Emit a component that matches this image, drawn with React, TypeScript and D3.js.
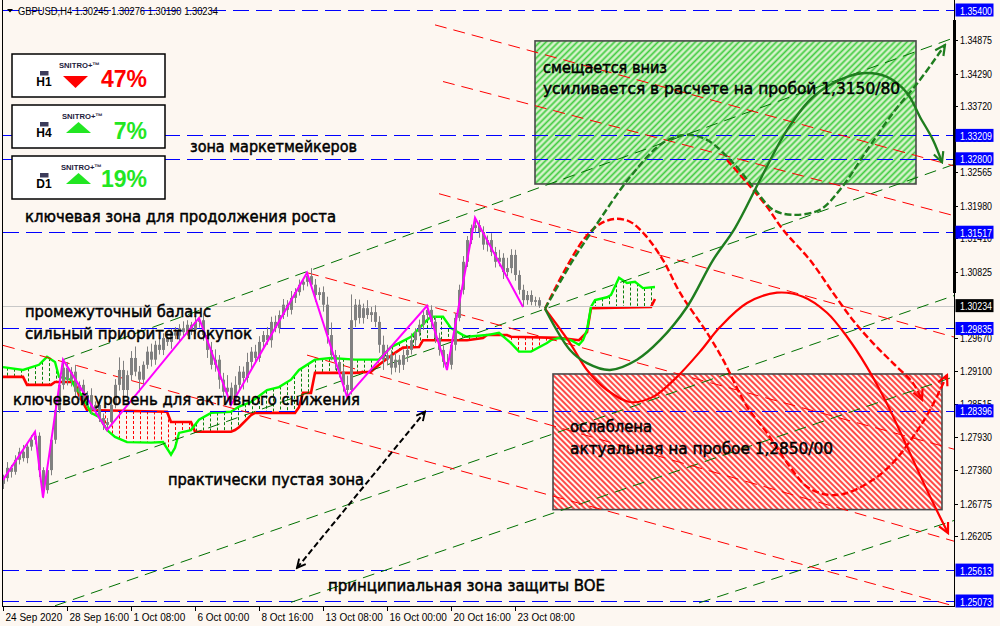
import React from "react";
import * as d3 from "d3";

const W = 1000;
const H = 626;
const X0 = 3;
const X1 = 954;
const Y1 = 606;

const header = "GBPUSD,H4  1.30245 1.30276 1.30190 1.30234";

// ---- candles (H4 bars, index 0 = 24 Sep 2020 00:00) ----
const firstOpen = 1.2712;
const closes = [
  1.2722, 1.274, 1.2733, 1.2754, 1.2768, 1.2757, 1.2777, 1.2789, 1.2796, 1.2736,
  1.2701, 1.2736, 1.2789, 1.2841, 1.2885, 1.2915, 1.2894, 1.2908, 1.2873, 1.2885,
  1.2859, 1.2867, 1.2841, 1.285, 1.2827, 1.2815, 1.282, 1.285, 1.2885, 1.2911,
  1.2876, 1.2902, 1.2932, 1.2908, 1.2894, 1.292, 1.2943, 1.2929, 1.2955, 1.2946,
  1.2967, 1.296, 1.2977, 1.2971, 1.2984, 1.2977, 1.299, 1.2981, 1.2995, 1.2998,
  1.2972, 1.2946, 1.292, 1.2929, 1.2894, 1.2873, 1.288, 1.2859, 1.2885, 1.2908,
  1.2897, 1.2925, 1.2943, 1.2932, 1.296, 1.2972, 1.2963, 1.2995, 1.2984, 1.3007,
  1.3025, 1.3016, 1.3037, 1.3047, 1.306, 1.3065, 1.3075, 1.306, 1.3042, 1.3047,
  1.3025, 1.2972, 1.2937, 1.2925, 1.2908, 1.2885, 1.2876, 1.2998, 1.3025, 1.3002,
  1.3019, 1.3007, 1.3012, 1.2995, 1.2955, 1.2929, 1.2937, 1.2915, 1.2929, 1.292,
  1.2937, 1.2946, 1.2963, 1.2977, 1.299, 1.3007, 1.3016, 1.2995, 1.2967, 1.2946,
  1.2925, 1.292, 1.2955, 1.3002, 1.3051, 1.31, 1.3138, 1.3159, 1.3164, 1.3152,
  1.313, 1.3138, 1.3117, 1.31, 1.3107, 1.3082, 1.3089, 1.3112, 1.3077, 1.3051,
  1.3033, 1.3042, 1.303, 1.3033, 1.30234,
];
// wick lengths in pips above / below the body
const wickUp = [
  6, 10, 5, 8, 7, 12, 5, 8, 7, 6,
  5, 8, 6, 9, 12, 14, 10, 8, 12, 6,
  9, 7, 12, 6, 10, 8, 7, 14, 10, 22,
  16, 8, 12, 20, 10, 6, 9, 14, 7, 11,
  8, 10, 6, 9, 7, 12, 8, 5, 10, 4,
  12, 9, 14, 18, 8, 12, 22, 9, 15, 10,
  9, 16, 8, 12, 10, 7, 14, 9, 11, 8,
  10, 8, 12, 7, 9, 6, 5, 14, 10, 8,
  10, 14, 22, 9, 12, 8, 16, 45, 10, 9,
  8, 14, 9, 12, 10, 16, 18, 9, 12, 8,
  10, 8, 12, 7, 9, 7, 7, 8, 10, 9,
  8, 14, 10, 8, 9, 10, 7, 6, 12, 9,
  10, 8, 12, 9, 14, 8, 18, 10, 9, 8,
  9, 7, 8, 6, 5,
];
const wickDn = [
  9, 6, 10, 5, 8, 6, 9, 7, 8, 12,
  14, 6, 9, 7, 5, 8, 10, 12, 8, 14,
  10, 12, 8, 9, 7, 9, 12, 8, 6, 10,
  18, 12, 9, 8, 22, 10, 7, 12, 9, 8,
  9, 7, 12, 6, 10, 8, 6, 9, 7, 10,
  10, 14, 8, 12, 16, 9, 12, 9, 8, 11,
  20, 8, 12, 9, 7, 10, 8, 13, 7, 9,
  7, 12, 8, 9, 6, 10, 8, 7, 12, 9,
  12, 15, 9, 14, 10, 12, 12, 8, 12, 10,
  10, 7, 12, 9, 14, 18, 10, 12, 8, 14,
  9, 12, 8, 10, 7, 9, 8, 12, 9, 10,
  10, 9, 8, 10, 6, 8, 9, 7, 8, 10,
  9, 12, 7, 10, 8, 12, 7, 9, 10, 8,
  12, 8, 6, 7, 4,
];
const lastPrice = 1.30234;

// ---- axes ----
const priceTicks = [
  1.34875, 1.3429, 1.3372, 1.33155, 1.32565, 1.3198, 1.3141, 1.30825,
  1.2967, 1.291, 1.28515, 1.2793, 1.2736, 1.26775, 1.26205,
];
const levels = [1.354, 1.33209, 1.328, 1.31517, 1.29835, 1.28396, 1.25613, 1.25073];
const timeLabels = [
  "24 Sep 2020", "28 Sep 16:00", "1 Oct 08:00", "6 Oct 00:00", "8 Oct 16:00",
  "13 Oct 08:00", "16 Oct 00:00", "20 Oct 16:00", "23 Oct 08:00",
];
const timeLabelBars = [0, 16, 32, 48, 64, 80, 96, 112, 128];

// ---- ZigZag ----
const zigzag: [number, number][] = [
  [0, 1.2719], [8, 1.2803], [10, 1.2688], [15, 1.2929], [26, 1.2806], [49, 1.3002],
  [57, 1.285], [76, 1.3081], [86, 1.2864], [106, 1.3023], [111, 1.2911], [118, 1.3177],
  [130, 1.3021],
];

// ---- Ichimoku cloud (Senkou Span A green, Span B red) ----
const spanA: [number, number][] = [
  [0, 1.2916], [5, 1.2911], [9, 1.292], [11, 1.2934], [13, 1.2925], [14, 1.2899],
  [17, 1.2894], [18, 1.2881], [20, 1.2864], [22, 1.2836], [24, 1.2829], [26, 1.2806],
  [28, 1.2794], [31, 1.2785], [37, 1.2784], [40, 1.2785], [42, 1.2763], [43, 1.2775],
  [44, 1.2801], [47, 1.2806], [49, 1.2824], [52, 1.2836], [57, 1.2838], [59, 1.2847],
  [62, 1.2855], [66, 1.2876], [69, 1.2881], [72, 1.2894], [74, 1.2911], [78, 1.2929],
  [82, 1.2932], [88, 1.2929], [94, 1.2929], [97, 1.2951], [99, 1.2958], [102, 1.2969],
  [106, 1.2998], [107, 1.3004], [110, 1.3004], [112, 1.2984], [115, 1.2972], [116, 1.2969],
  [121, 1.2972], [124, 1.2976], [127, 1.2958], [129, 1.2943], [132, 1.2943], [136, 1.2958],
  [137, 1.2963], [139, 1.2967], [142, 1.2963], [144, 1.2955], [145, 1.2963], [146, 1.2981],
  [147, 1.3021], [148, 1.3033], [151, 1.3038], [152, 1.3042], [154, 1.3072], [156, 1.3063],
  [158, 1.3065], [160, 1.3054], [163, 1.3056],
];
const spanB: [number, number][] = [
  [0, 1.2899], [5, 1.2899], [6, 1.2885], [12, 1.2885], [13, 1.289], [18, 1.289],
  [19, 1.2867], [21, 1.2841], [41, 1.2838], [42, 1.282], [47, 1.282], [48, 1.2803],
  [57, 1.2803], [58, 1.2806], [59, 1.2811], [62, 1.2832], [63, 1.2836], [73, 1.2836],
  [74, 1.2846], [75, 1.2871], [77, 1.2871], [78, 1.2906], [88, 1.2906], [92, 1.2908],
  [94, 1.292], [98, 1.2941], [100, 1.295], [104, 1.2951], [105, 1.2963], [116, 1.2963],
  [120, 1.2967], [121, 1.2972], [126, 1.2972], [127, 1.2969], [139, 1.2967], [144, 1.2963],
  [146, 1.2977], [147, 1.3019], [162, 1.3021], [163, 1.3035],
];

// ---- trend lines [bar1, price1, bar2, price2], drawn as rays to the right ----
const greenTrends: [number, number, number, number][] = [
  [15, 1.2929, 76, 1.3083],
  [11, 1.271, 130, 1.3004],
  [13, 1.2499, 137, 1.2798],
  [72, 1.2505, 236, 1.2895],
  [174, 1.2504, 236, 1.2644],
];
const redTrends: [number, number, number, number][] = [
  [108, 1.3514, 237, 1.3269],
  [110, 1.3415, 237, 1.3182],
  [109, 1.3219, 237, 1.297],
  [76, 1.3081, 237, 1.2774],
  [76, 1.2937, 174, 1.274],
  [0, 1.2954, 237, 1.25],
];
const rayEndBar = 240;

// ---- forecast paths ----
const fcGreenDash: [number, number][] = [
  [135.5, 1.3018], [142.5, 1.3103], [147.5, 1.3156], [156.75, 1.3248], [165, 1.3308],
  [171, 1.3322], [176, 1.3313], [182.5, 1.3273], [187.5, 1.3231], [192.5, 1.3191],
  [197.5, 1.3182], [204.25, 1.3191], [209.25, 1.3226], [216, 1.3295], [222.5, 1.336],
  [229.25, 1.3418], [235.5, 1.3479],
];
const fcGreenSolid: [number, number][] = [
  [135.5, 1.3018], [141.75, 1.2946], [146, 1.2923], [151.75, 1.2911], [158.5, 1.2929],
  [164.25, 1.2963], [171, 1.3021], [177.5, 1.3103], [183, 1.3159], [189.25, 1.3243],
  [196, 1.333], [202.5, 1.3388], [211, 1.3423], [216, 1.343], [221, 1.3423],
  [226, 1.3395], [229.25, 1.3353], [232.5, 1.3313], [234.75, 1.3274],
];
const fcRedDash1: [number, number][] = [
  [135.5, 1.3018], [140.5, 1.3086], [145.5, 1.3142], [149.25, 1.3166], [153, 1.3175],
  [156.75, 1.317], [160.5, 1.3147], [165, 1.3103], [169.25, 1.3046], [176, 1.2976],
  [180, 1.2929], [186, 1.2847], [191, 1.2801], [196, 1.2749], [201, 1.2707],
  [206, 1.2693], [211, 1.2696], [217.5, 1.2719], [222.5, 1.2749], [227.5, 1.2794],
  [231.75, 1.2841], [236, 1.2902],
];
const fcRedDash2: [number, number][] = [
  [181, 1.3278], [186, 1.3238], [191, 1.3196], [195, 1.3156], [201.75, 1.3103],
  [207.5, 1.3046], [212.5, 1.2998], [217.5, 1.2958], [222.5, 1.2923], [227.5, 1.2888],
  [229.75, 1.2859],
];
const fcRedSolid: [number, number][] = [
  [135.5, 1.3018], [141.75, 1.2958], [146, 1.2911], [151, 1.2876], [156.75, 1.2855],
  [162.5, 1.2864], [168.5, 1.2899], [174.25, 1.2943], [179.25, 1.2986], [186, 1.3028],
  [193.5, 1.3046], [200, 1.3039], [206, 1.3011], [211, 1.2969], [216, 1.2916],
  [221, 1.2852], [226, 1.2777], [231, 1.2701], [236.25, 1.2626],
];
const rangeArrow: [number, number][] = [[73.5, 1.2565], [105.5, 1.2838]];

// ---- zones [bar1, price1, bar2, price2] ----
const buyZone = [133, 1.3486, 228.25, 1.3236];
const sellZone = [137.5, 1.2904, 234.75, 1.2667];

// ---- text notes [text, bar, price] ----
const notes: [string, number, number][] = [
  ["зона маркетмейкеров", 46.75, 1.3302],
  ["ключевая зона для продолжения роста", 5.5, 1.318],
  ["промежуточный баланс", 5.5, 1.3014],
  ["сильный приоритет покупок", 5.5, 1.2974],
  ["ключевой уровень для активного снижения", 2.5, 1.2859],
  ["практически пустая зона", 41.25, 1.2719],
  ["принципиальная зона защиты BOE", 81.25, 1.2534],
  ["смещается вниз", 135, 1.344],
  ["усиливается в расчете на пробой 1,3150/80", 135, 1.3402],
  ["ослаблена", 141.75, 1.2812],
  ["актуальная на пробое 1,2850/00", 141.75, 1.2773],
];
const noteWidths = [167, 311, 186, 227, 347, 196, 277, 124, 357, 82, 263];

// ---- signal panels ----
const signalTf = ["H1", "H4", "D1"];
const signalDir = ["down", "up", "up"];
const signalPct = [47, 7, 19];

const BG = "#fdf7f1";
const GREEN_FC = "#1f7d1f";

export default function App() {
  const xs = d3.scaleLinear().domain([0, 1]).range([3, 7]);
  const ys = d3.scaleLinear().domain([1.25073, 1.354]).range([601, 10]);
  const line = d3.line<[number, number]>().x((d) => xs(d[0])).y((d) => ys(d[1]));
  const smooth = d3
    .line<[number, number]>()
    .x((d) => xs(d[0]))
    .y((d) => ys(d[1]))
    .curve(d3.curveCatmullRom.alpha(0.5));

  const candles = closes.map((c, i) => {
    const o = i === 0 ? firstOpen : closes[i - 1];
    const top = Math.max(o, c);
    const bot = Math.min(o, c);
    return { i, o, c, top, bot, h: top + (wickUp[i] ?? 0) / 10000, l: bot - (wickDn[i] ?? 0) / 10000 };
  });

  const aScale = d3.scaleLinear().domain(spanA.map((d) => d[0])).range(spanA.map((d) => d[1]));
  const bScale = d3.scaleLinear().domain(spanB.map((d) => d[0])).range(spanB.map((d) => d[1]));
  const cStart = Math.max(spanA[0][0], spanB[0][0]);
  const cEnd = Math.min(spanA[spanA.length - 1][0], spanB[spanB.length - 1][0]);
  const hatch: { px: number; y1: number; y2: number; up: boolean }[] = [];
  for (let px = xs(cStart) + 4; px <= xs(cEnd); px += 7) {
    const b = xs.invert(px);
    const a = aScale(b);
    const bb = bScale(b);
    hatch.push({ px: Math.round(px) + 0.5, y1: Math.min(ys(a), ys(bb)), y2: Math.max(ys(a), ys(bb)), up: a >= bb });
  }

  const ray = (t: [number, number, number, number]) => {
    const [b1, p1, b2, p2] = t;
    const pe = p1 + ((p2 - p1) * (rayEndBar - b1)) / (b2 - b1);
    return { x1: xs(b1), y1: ys(p1), x2: xs(rayEndBar), y2: ys(pe) };
  };

  const zone = (z: number[]) => ({
    x: xs(z[0]),
    y: ys(z[1]),
    w: xs(z[2]) - xs(z[0]),
    h: ys(z[3]) - ys(z[1]),
  });
  const bz = zone(buyZone);
  const sz = zone(sellZone);

  const panelTop = [54, 105, 156];
  const pctBase = [33, 33.5, 31];
  const snX = [59, 62, 61];

  const mk = (id: string, color: string, size: number) => (
    <marker
      id={id}
      viewBox="0 0 14 14"
      refX={12}
      refY={7}
      markerWidth={size}
      markerHeight={size}
      markerUnits="userSpaceOnUse"
      orient="auto-start-reverse"
    >
      <path d="M2,2 L12,7 L2,12" fill="none" stroke={color} strokeWidth={2.2} strokeDasharray="none" />
    </marker>
  );

  return (
    <svg width={W} height={H} style={{ display: "block", position: "absolute", left: 0, top: 0 }}>
      <defs>
        <clipPath id="plot">
          <rect x={X0} y={0} width={X1 - X0} height={Y1} />
        </clipPath>
        <pattern id="gz" width={4.4} height={10} patternUnits="userSpaceOnUse" patternTransform="rotate(45)">
          <rect width={4.4} height={10} fill="#d6f2cb" />
          <line x1={2.2} y1={0} x2={2.2} y2={10} stroke="#40cc40" strokeWidth={1.7} />
        </pattern>
        <pattern id="rz" width={4} height={10} patternUnits="userSpaceOnUse" patternTransform="rotate(-45)">
          <line x1={2} y1={0} x2={2} y2={10} stroke="#ff0000" strokeWidth={1.4} />
        </pattern>
        {mk("arrG", GREEN_FC, 14)}
        {mk("arrR", "#ff0000", 14)}
        {mk("arrK", "#000000", 12)}
      </defs>

      <rect x={0} y={0} width={W} height={H} fill={BG} />

      <g clipPath="url(#plot)">
        {/* zones */}
        <rect x={bz.x} y={bz.y} width={bz.w} height={bz.h} fill="url(#gz)" stroke="#4a4a4a" strokeWidth={1.6} />
        <rect x={sz.x} y={sz.y} width={sz.w} height={sz.h} fill="url(#rz)" stroke="#4a4a4a" strokeWidth={1.6} />

        {/* cloud hatch */}
        {hatch.map((h, k) => (
          <line
            key={k}
            x1={h.px}
            x2={h.px}
            y1={h.y1}
            y2={h.y2}
            stroke={h.up ? "#0a7f0a" : "#ff0000"}
            strokeWidth={1}
            strokeDasharray="3 2"
          />
        ))}
        <path d={line(spanB) || ""} fill="none" stroke="#ff0000" strokeWidth={2.6} />
        <path d={line(spanA) || ""} fill="none" stroke="#00ff00" strokeWidth={2.4} />

        {/* bid line and levels */}
        <line x1={X0} x2={X1} y1={Math.round(ys(lastPrice)) + 0.5} y2={Math.round(ys(lastPrice)) + 0.5} stroke="#c8c8c8" />
        {levels.map((p) => (
          <line
            key={p}
            x1={X0}
            x2={X1}
            y1={Math.round(ys(p)) + 0.5}
            y2={Math.round(ys(p)) + 0.5}
            stroke="#0000ff"
            strokeDasharray="16 7"
          />
        ))}

        {/* trend lines */}
        {greenTrends.map((t, k) => {
          const r = ray(t);
          return <line key={"g" + k} {...r} stroke="#007000" strokeWidth={1} strokeDasharray="12 7" />;
        })}
        {redTrends.map((t, k) => {
          const r = ray(t);
          return <line key={"r" + k} {...r} stroke="#ff0000" strokeWidth={1} strokeDasharray="12 7" />;
        })}

        {/* candles */}
        {candles.map((d) => {
          const x = Math.round(xs(d.i));
          const yt = ys(d.top);
          const yb = ys(d.bot);
          return (
            <g key={d.i}>
              <line x1={x + 0.5} x2={x + 0.5} y1={ys(d.h)} y2={ys(d.l)} stroke="#808080" />
              <rect x={x - 1} y={yt} width={3} height={Math.max(1, yb - yt)} fill="#808080" />
            </g>
          );
        })}

        {/* zigzag */}
        <path d={line(zigzag) || ""} fill="none" stroke="#ff00ff" strokeWidth={2} />

        {/* forecasts */}
        <path d={smooth(fcRedDash2) || ""} fill="none" stroke="#ff0000" strokeWidth={2.4} strokeDasharray="7 3" markerEnd="url(#arrR)" />
        <path d={smooth(fcRedDash1) || ""} fill="none" stroke="#ff0000" strokeWidth={2.4} strokeDasharray="7 3" markerEnd="url(#arrR)" />
        <path d={smooth(fcRedSolid) || ""} fill="none" stroke="#ff0000" strokeWidth={2.2} markerEnd="url(#arrR)" />
        <path d={smooth(fcGreenSolid) || ""} fill="none" stroke={GREEN_FC} strokeWidth={2.4} markerEnd="url(#arrG)" />
        <path d={smooth(fcGreenDash) || ""} fill="none" stroke={GREEN_FC} strokeWidth={2.4} strokeDasharray="7 3" markerEnd="url(#arrG)" />
        <path
          d={line(rangeArrow) || ""}
          fill="none"
          stroke="#000"
          strokeWidth={2}
          strokeDasharray="6 3"
          markerStart="url(#arrK)"
          markerEnd="url(#arrK)"
        />

        {/* notes */}
        {notes.map((n, k) => (
          <text
            key={k}
            x={xs(n[1])}
            y={ys(n[2])}
            dominantBaseline="central"
            fontFamily="'DejaVu Sans', sans-serif"
            fontSize={16}
            fill="#000"
            stroke="#000"
            strokeWidth={0.5}
            textLength={noteWidths[k]}
            lengthAdjust="spacingAndGlyphs"
          >
            {n[0]}
          </text>
        ))}
      </g>

      {/* signal panels */}
      {signalTf.map((tf, k) => {
        const t = panelTop[k];
        const up = signalDir[k] === "up";
        const col = up ? "#22e622" : "#ff0000";
        const triX = up ? 66 : 63;
        const tri = up
          ? `M${triX},${t + 28} L${triX + 25},${t + 28} L${triX + 12.5},${t + 17} Z`
          : `M${triX},${t + 22} L${triX + 25},${t + 22} L${triX + 12.5},${t + 34} Z`;
        return (
          <g key={tf}>
            <rect x={12} y={t} width={153} height={43} fill="#ffffff" stroke="#000" strokeWidth={1.5} />
            <rect x={40} y={t + 17} width={8.5} height={4.5} fill="#3c3c5a" />
            <text x={44} y={t + 28} dominantBaseline="central" textAnchor="middle" fontFamily="'Liberation Sans', Arial, sans-serif" fontWeight="bold" fontSize={12} fill="#000">
              {tf}
            </text>
            <text x={snX[k]} y={t + 11.5} dominantBaseline="central" fontFamily="'Liberation Sans', Arial, sans-serif" fontWeight="bold" fontSize={8} fill="#1c1c3c" textLength={41} lengthAdjust="spacingAndGlyphs">
              SNITRO+™
            </text>
            <path d={tri} fill={col} />
            <text x={147} y={t + pctBase[k]} textAnchor="end" fontFamily="'Liberation Sans', Arial, sans-serif" fontWeight="bold" fontSize={23} fill={col}>
              {signalPct[k]}%
            </text>
          </g>
        );
      })}

      {/* header */}
      <path d="M7,9 L13,9 L10,12.5 Z" fill="#000" />
      <text x={18} y={11} dominantBaseline="central" fontFamily="'Liberation Sans', Arial, sans-serif" fontSize={10} fill="#000" textLength={200} lengthAdjust="spacingAndGlyphs">
        {header}
      </text>

      {/* frame / axes */}
      <line x1={2.5} x2={2.5} y1={0} y2={Y1} stroke="#000" />
      <line x1={X1 + 0.5} x2={X1 + 0.5} y1={0} y2={Y1} stroke="#000" />
      <rect x={X1 - 1} y={20} width={3} height={273} fill="#000" />
      <line x1={2} x2={X1 + 1} y1={Y1 + 0.5} y2={Y1 + 0.5} stroke="#000" />

      {/* price axis */}
      {priceTicks.map((p) => (
        <g key={p}>
          <line x1={X1} x2={X1 + 4} y1={Math.round(ys(p)) + 0.5} y2={Math.round(ys(p)) + 0.5} stroke="#000" />
          <text x={960} y={ys(p)} dominantBaseline="central" fontFamily="'Liberation Sans', Arial, sans-serif" fontSize={10.5} fill="#000" textLength={32} lengthAdjust="spacingAndGlyphs">
            {p.toFixed(5)}
          </text>
        </g>
      ))}
      {levels.map((p) => (
        <g key={"lv" + p}>
          <rect x={955.5} y={ys(p) - 6.5} width={38} height={13} fill="#0000ff" />
          <text x={960} y={ys(p) + 0.5} dominantBaseline="central" fontFamily="'Liberation Sans', Arial, sans-serif" fontSize={10.5} fill="#fff" textLength={32} lengthAdjust="spacingAndGlyphs">
            {p.toFixed(5)}
          </text>
        </g>
      ))}
      <rect x={955.5} y={ys(lastPrice) - 6.5} width={38} height={13} fill="#000" />
      <text x={960} y={ys(lastPrice) + 0.5} dominantBaseline="central" fontFamily="'Liberation Sans', Arial, sans-serif" fontSize={10.5} fill="#fff" textLength={32} lengthAdjust="spacingAndGlyphs">
        {lastPrice.toFixed(5)}
      </text>

      {/* time axis */}
      {timeLabels.map((t, k) => {
        const x = Math.round(xs(timeLabelBars[k])) + 0.5;
        return (
          <g key={t}>
            <line x1={x} x2={x} y1={Y1} y2={Y1 + 5} stroke="#000" />
            <text x={x + 2} y={617} dominantBaseline="central" fontFamily="'Liberation Sans', Arial, sans-serif" fontSize={10} fill="#000">
              {t}
            </text>
          </g>
        );
      })}
    </svg>
  );
}
